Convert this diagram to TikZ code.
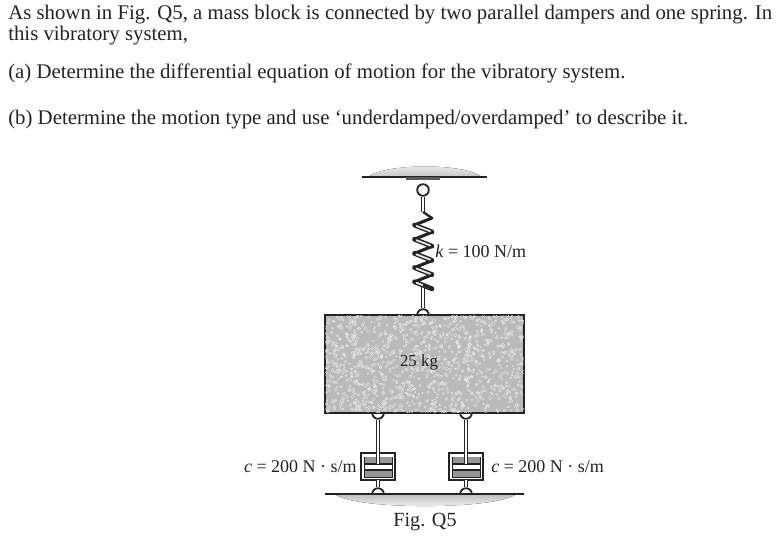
\documentclass[tikz,border=0pt]{standalone}
\usepackage{xcolor}
\usepackage{fontspec}
\setmainfont{Liberation Serif}
\usepackage{tikz}
\definecolor{inkblack}{RGB}{35, 35, 35}
\definecolor{blockgray}{RGB}{186, 186, 186}
\definecolor{fluidgray}{RGB}{150, 150, 150}
\tikzset{
    textline/.style={anchor=base west, inner sep=0pt, font=\fontsize{14.8pt}{16pt}\selectfont, text=inkblack},
    dimlabel/.style={inner sep=0pt, font=\fontsize{12.8pt}{14pt}\selectfont, text=inkblack},
    eyelet/.style={circle, draw=inkblack, line width=1.3pt, fill=white, minimum size=2.9mm, inner sep=0pt},
    rodline/.style={draw=inkblack, line width=0.5pt, double=white, double distance=1.7pt},
    groundline/.style={draw=inkblack, line width=0.9pt}
}
\begin{document}
\begin{tikzpicture}[x=0.25mm, y=-0.25mm]
    \useasboundingbox (0, 0) rectangle (776, 536);
    \fill[white] (0, 0) rectangle (776, 536);

    % question text
    \node[textline] (line1) at (8, 20) {As shown in Fig. Q5, a mass block is connected by two parallel dampers and one spring. In};
    \node[textline] (line2) at (8, 41) {this vibratory system,};
    \node[textline] (parta) at (8, 79) {(a) Determine the differential equation of motion for the vibratory system.};
    \node[textline] (partb) at (8, 125) {(b) Determine the motion type and use ‘underdamped/overdamped’ to describe it.};

    % ceiling
    \fill[top color=gray!10, bottom color=gray!45] (368, 177) .. controls (385, 163) and (465, 163) .. (482, 177) -- cycle;
    \draw[groundline] (362, 177) coordinate (ceilL) -- (487, 177) coordinate (ceilR);
    \fill[inkblack!75] (406, 177) rectangle (440, 180);

    % eyelets, the block covers half of the lower ones
    \node[eyelet] (topring) at (423, 190) {};
    \node[eyelet] (springring) at (423, 315) {};
    \node[eyelet] (leftring) at (378, 413) {};
    \node[eyelet] (rightring) at (466, 413) {};

    % mass block
    \node[draw=inkblack, line width=0.9pt, fill=blockgray, minimum width=49.75mm, minimum height=24.5mm, inner sep=0pt] (mass) at (424.5, 364) {};
    \begin{scope}
        \clip (mass.south west) rectangle (mass.north east);
        \pgfmathsetseed{7}
        \foreach \i in {1,...,1100} {
            \pgfmathsetmacro{\rx}{325 + 199*rnd}
            \pgfmathsetmacro{\ry}{315 + 98*rnd}
            \pgfmathsetmacro{\rr}{0.7 + 1.1*rnd}
            \draw[gray!15, line width=0.2pt] (\rx, \ry) circle (\rr);
        }
    \end{scope}
    \draw[inkblack, line width=0.9pt] (mass.south west) rectangle (mass.north east);
    \node[dimlabel, font=\fontsize{12pt}{14pt}\selectfont] (masslabel) at (419, 362) {25 kg};

    % spring
    \coordinate (springtop) at (423, 212);
    \coordinate (springbot) at (423, 287);
    \draw[rodline] (topring) -- (springtop);
    \draw[rodline] (springring) -- (springbot);
    \foreach \y in {0, 1, 2, 3, 4} {
        \draw[inkblack, line width=2.2pt, line cap=round] (432, 218 + 14.2*\y) -- (414.5, 225 + 14.2*\y);
    }
    \foreach \y in {0, 1, 2, 3, 4} {
        \draw[inkblack, line width=3.4pt, line cap=round] (414.5, 225 + 14.2*\y) -- (432, 232 + 14.2*\y);
        \draw[gray!20, line width=1.3pt, line cap=round] (416.5, 226 + 14.2*\y) -- (430, 231.2 + 14.2*\y);
    }
    \draw[inkblack, line width=1.6pt] (423, 212) -- (432, 218);
    \draw[inkblack, line width=1.6pt] (432, 288.8) -- (423, 285);
    \node[dimlabel, anchor=west] (klabel) at (435, 251) {\textit{k} = 100 N/m};

    % dampers
    \foreach \x/\name in {378/left, 466/right} {
        \draw[inkblack, line width=0.8pt, fill=white] (\x-17, 453) rectangle (\x+17, 480);
        \draw[inkblack, line width=0.6pt, fill=white] (\x-14, 457) rectangle (\x+14, 477);
        \fill[fluidgray] (\x-13.5, 457.5) rectangle (\x+13.5, 464);
        \fill[fluidgray] (\x-13.5, 470) rectangle (\x+13.5, 476.5);
        \draw[inkblack, line width=0.9pt] (\x-14, 464) -- (\x+14, 464) (\x-14, 470) -- (\x+14, 470);
        \coordinate (\name piston) at (\x, 464);
        \node[eyelet] (\name foot) at (\x, 494) {};
        \coordinate (\name base) at (\x, 480);
        \draw[rodline] (\name ring.south) -- (\name piston);
        \draw[rodline] (\name base) -- (\name foot.north);
    }

    % ground
    \fill[top color=gray!50, bottom color=gray!2] (335, 494.3) -- (516, 494.3) .. controls (495, 510) and (355, 510) .. (335, 494.3) -- cycle;
    \draw[groundline] (325, 494) coordinate (floorL) -- (524, 494) coordinate (floorR);
    \node[dimlabel, anchor=east] (leftlabel) at (357, 467) {\textit{c} = 200 N · s/m};
    \node[dimlabel, anchor=west] (rightlabel) at (491, 467) {\textit{c} = 200 N · s/m};

    % caption
    \node[inner sep=0pt, font=\fontsize{14.3pt}{16pt}\selectfont, text=inkblack] (caption) at (425, 522.5) {Fig. Q5};
\end{tikzpicture}
\end{document}
